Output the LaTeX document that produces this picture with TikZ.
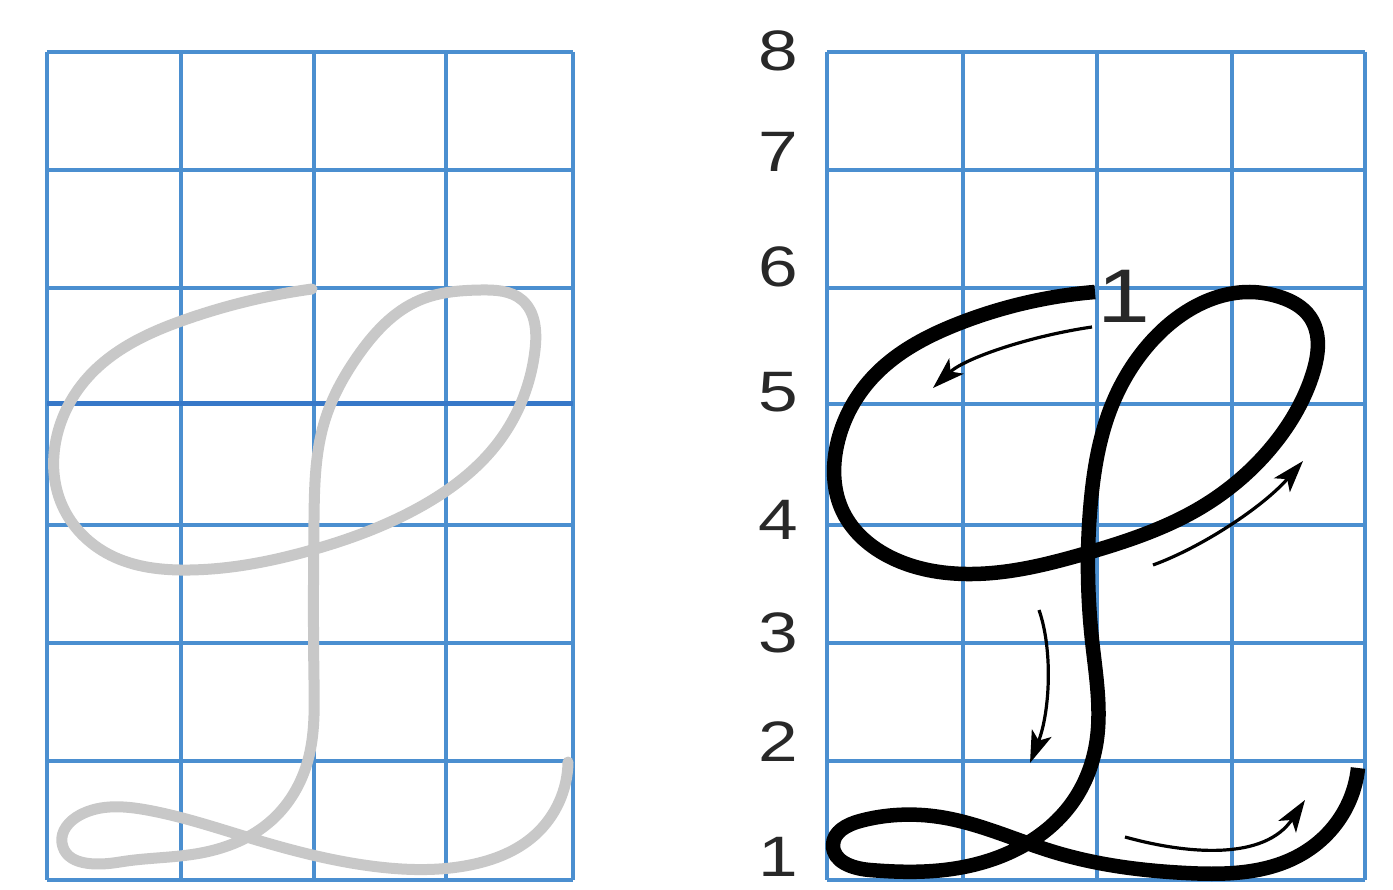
\documentclass[tikz,border=0pt]{standalone}
\usepackage{fontspec}
\setmainfont{Liberation Sans}
\usetikzlibrary{arrows.meta,hobby}
\definecolor{gridblue}{RGB}{75,143,208}
\definecolor{griddark}{RGB}{55,120,200}
\definecolor{pencil}{RGB}{200,200,200}
\definecolor{labelgray}{RGB}{40,40,40}
\newcommand\widetext[1]{\scalebox{1.25}[1]{#1}}
\tikzset{
  gridline/.style={gridblue, line width=3.2pt},
  boldrow/.style={griddark, line width=5pt},
  letterink/.style={black, line width=14.5pt, line join=round, line cap=butt},
  pencilink/.style={pencil, line width=11pt, line join=round, line cap=round},
  guide/.style={black, line width=3.2pt, -{Stealth[length=32pt,width=21pt,inset=8pt]}},
  rowlabel/.style={font=\fontsize{57}{60}\selectfont, text=labelgray, inner sep=0pt},
  startlabel/.style={font=\fontsize{76}{80}\selectfont, text=labelgray, inner sep=0pt},
}
\begin{document}
\begin{tikzpicture}[x=1pt,y=-1pt]
\useasboundingbox (0,0) rectangle (1393,890);
\fill[white] (0,0) rectangle (1393,890);

% ---- left grid ----
\foreach \c in {47,181,314,446,573} {\draw[gridline] (\c,52) -- (\c,880);}
\foreach \r in {52,170,288,525,643,761,880} {\draw[gridline] (47,\r) -- (573,\r);}
\draw[boldrow] (47,404) -- (573,404);

% ---- right grid ----
\foreach \c in {827,963,1097,1232,1365} {\draw[gridline] (\c,52) -- (\c,880);}
\foreach \r in {52,170,288,404,525,643,761,880} {\draw[gridline] (827,\r) -- (1365,\r);}

% ---- row labels ----
\node[rowlabel] (r8) at (778,51)  {\widetext{8}};
\node[rowlabel] (r7) at (778,152) {\widetext{7}};
\node[rowlabel] (r6) at (778,267) {\widetext{6}};
\node[rowlabel] (r5) at (778,392) {\widetext{5}};
\node[rowlabel] (r4) at (778,520) {\widetext{4}};
\node[rowlabel] (r3) at (778,633) {\widetext{3}};
\node[rowlabel] (r2) at (778,742) {\widetext{2}};
\node[rowlabel] (r1) at (778,857) {\widetext{1}};

% ---- left pencil letter ----
\draw[pencilink, use Hobby shortcut]
 (312,289) .. (187,319) .. (90,375) .. (56,440) .. (62,505)
 .. (110,555) .. (190,570) .. (312,550) .. (420,507)
 .. (500,440) .. (535,350) .. (522,300) .. (481,290) .. (420,300)
 .. (357,357) .. (325,420) .. (314,520) .. (314,680)
 .. (308,760) .. (272,820) .. (201,853) .. (120,862) .. (62,843)
 .. (80,815) .. (147,810) .. (250,838) .. (379,867)
 .. (470,865) .. (535,835) .. (568,762);

% ---- right black letter ----
\draw[letterink, use Hobby shortcut]
 (1095,292) .. (960,323) .. (872,378) .. (837,445) .. (843,512)
 .. (892,558) .. (966,574) .. (1087,553) .. (1200,508)
 .. (1275,443) .. (1313,373) .. (1310,317) .. (1280,297) .. (1250,292)
 .. (1200,304) .. (1150,343) .. (1110,410) .. (1091,500) .. (1092,640)
 .. (1096,745) .. (1072,803) .. (1015,850) .. (944,870) .. (870,870)
 .. (833,845) .. (860,821) .. (940,817) .. (1054,852) .. (1186,873)
 .. (1300,855) .. (1342,815) .. (1358,768);

% ---- start label ----
\node[startlabel] (s1) at (1124,296) {\widetext{1}};

% ---- direction arrows ----
\coordinate (a1s) at (1092,327); \coordinate (a1e) at (933,388);
\coordinate (a2s) at (1153,565); \coordinate (a2e) at (1303,461);
\coordinate (a3s) at (1039,610); \coordinate (a3e) at (1030,763);
\coordinate (a4s) at (1125,837); \coordinate (a4e) at (1305,800);
\draw[guide] (a1s) .. controls (1030,336) and (965,358) .. (a1e);
\draw[guide] (a2s) .. controls (1200,548) and (1262,508) .. (a2e);
\draw[guide] (a3s) .. controls (1053,650) and (1050,712) .. (a3e);
\draw[guide] (a4s) .. controls (1190,855) and (1265,860) .. (a4e);
\end{tikzpicture}
\end{document}
